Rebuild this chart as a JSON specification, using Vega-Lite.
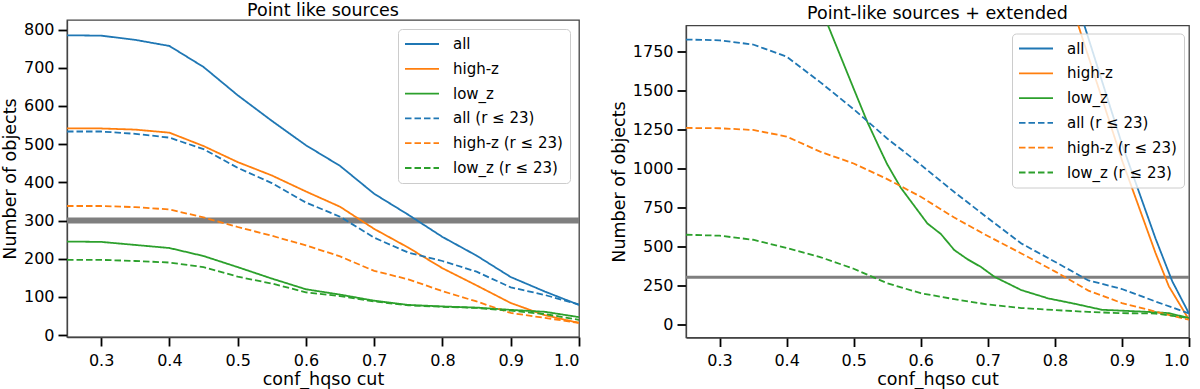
{
  "$schema": "https://vega.github.io/schema/vega-lite/v6.json",
  "background": "white",
  "padding": {"left": 0, "top": 0, "right": 5, "bottom": 0},
  "config": {
    "font": "DejaVu Sans",
    "view": {"stroke": "#444444", "strokeWidth": 1.3},
    "axis": {
      "labelFont": "DejaVu Sans", "labelFontSize": 16, "labelColor": "black",
      "titleFont": "DejaVu Sans", "titleFontSize": 17.5, "titleFontWeight": "normal", "titleColor": "black",
      "tickColor": "black", "tickSize": 9, "tickWidth": 1.8,
      "domainColor": "#444444", "domainWidth": 1.3,
      "grid": false, "titlePadding": 4
    },
    "axisX": {"labelPadding": 6, "titlePadding": 2},
    "axisY": {"labelPadding": 4},
    "title": {"font": "DejaVu Sans", "fontSize": 17.5, "fontWeight": "normal", "color": "black", "offset": 1, "anchor": "middle"},
    "legend": {
      "title": null, "symbolType": "M-1.125,0H3.125", "symbolSize": 256, "symbolStrokeWidth": 1.8,
      "labelFont": "DejaVu Sans", "labelFontSize": 15, "labelColor": "black", "labelOffset": 30,
      "fillColor": "rgba(255,255,255,0.8)", "strokeColor": "#cccccc", "cornerRadius": 4,
      "padding": 7, "rowPadding": 8.8, "clipHeight": 16
    }
  },
  "datasets": {
    "thr": [{"n": 300}],
    "left": [
      {"cut": 0.25, "n": 785, "series": "all"}, {"cut": 0.3, "n": 784, "series": "all"}, {"cut": 0.35, "n": 773, "series": "all"}, {"cut": 0.4, "n": 757, "series": "all"}, {"cut": 0.45, "n": 702, "series": "all"}, {"cut": 0.5, "n": 628, "series": "all"}, {"cut": 0.55, "n": 561, "series": "all"}, {"cut": 0.6, "n": 497, "series": "all"}, {"cut": 0.65, "n": 443, "series": "all"}, {"cut": 0.7, "n": 370, "series": "all"}, {"cut": 0.75, "n": 315, "series": "all"}, {"cut": 0.8, "n": 257, "series": "all"}, {"cut": 0.85, "n": 208, "series": "all"}, {"cut": 0.9, "n": 152, "series": "all"}, {"cut": 0.95, "n": 114, "series": "all"}, {"cut": 1.0, "n": 79, "series": "all"},
      {"cut": 0.25, "n": 541, "series": "high-z"}, {"cut": 0.3, "n": 541, "series": "high-z"}, {"cut": 0.35, "n": 538, "series": "high-z"}, {"cut": 0.4, "n": 530, "series": "high-z"}, {"cut": 0.45, "n": 495, "series": "high-z"}, {"cut": 0.5, "n": 453, "series": "high-z"}, {"cut": 0.55, "n": 418, "series": "high-z"}, {"cut": 0.6, "n": 376, "series": "high-z"}, {"cut": 0.65, "n": 336, "series": "high-z"}, {"cut": 0.7, "n": 278, "series": "high-z"}, {"cut": 0.75, "n": 229, "series": "high-z"}, {"cut": 0.8, "n": 175, "series": "high-z"}, {"cut": 0.85, "n": 130, "series": "high-z"}, {"cut": 0.9, "n": 84, "series": "high-z"}, {"cut": 0.95, "n": 52, "series": "high-z"}, {"cut": 1.0, "n": 32, "series": "high-z"},
      {"cut": 0.25, "n": 245, "series": "low_z"}, {"cut": 0.3, "n": 244, "series": "low_z"}, {"cut": 0.35, "n": 236, "series": "low_z"}, {"cut": 0.4, "n": 228, "series": "low_z"}, {"cut": 0.45, "n": 207, "series": "low_z"}, {"cut": 0.5, "n": 178, "series": "low_z"}, {"cut": 0.55, "n": 148, "series": "low_z"}, {"cut": 0.6, "n": 120, "series": "low_z"}, {"cut": 0.65, "n": 106, "series": "low_z"}, {"cut": 0.7, "n": 90, "series": "low_z"}, {"cut": 0.75, "n": 79, "series": "low_z"}, {"cut": 0.8, "n": 75, "series": "low_z"}, {"cut": 0.85, "n": 72, "series": "low_z"}, {"cut": 0.9, "n": 66, "series": "low_z"}, {"cut": 0.95, "n": 61, "series": "low_z"}, {"cut": 1.0, "n": 47, "series": "low_z"},
      {"cut": 0.25, "n": 533, "series": "all (r ≤ 23)"}, {"cut": 0.3, "n": 533, "series": "all (r ≤ 23)"}, {"cut": 0.35, "n": 527, "series": "all (r ≤ 23)"}, {"cut": 0.4, "n": 517, "series": "all (r ≤ 23)"}, {"cut": 0.45, "n": 487, "series": "all (r ≤ 23)"}, {"cut": 0.5, "n": 438, "series": "all (r ≤ 23)"}, {"cut": 0.55, "n": 398, "series": "all (r ≤ 23)"}, {"cut": 0.6, "n": 347, "series": "all (r ≤ 23)"}, {"cut": 0.65, "n": 310, "series": "all (r ≤ 23)"}, {"cut": 0.7, "n": 255, "series": "all (r ≤ 23)"}, {"cut": 0.75, "n": 216, "series": "all (r ≤ 23)"}, {"cut": 0.8, "n": 194, "series": "all (r ≤ 23)"}, {"cut": 0.85, "n": 166, "series": "all (r ≤ 23)"}, {"cut": 0.9, "n": 125, "series": "all (r ≤ 23)"}, {"cut": 0.95, "n": 105, "series": "all (r ≤ 23)"}, {"cut": 1.0, "n": 80, "series": "all (r ≤ 23)"},
      {"cut": 0.25, "n": 338, "series": "high-z (r ≤ 23)"}, {"cut": 0.3, "n": 338, "series": "high-z (r ≤ 23)"}, {"cut": 0.35, "n": 335, "series": "high-z (r ≤ 23)"}, {"cut": 0.4, "n": 329, "series": "high-z (r ≤ 23)"}, {"cut": 0.45, "n": 308, "series": "high-z (r ≤ 23)"}, {"cut": 0.5, "n": 283, "series": "high-z (r ≤ 23)"}, {"cut": 0.55, "n": 260, "series": "high-z (r ≤ 23)"}, {"cut": 0.6, "n": 235, "series": "high-z (r ≤ 23)"}, {"cut": 0.65, "n": 206, "series": "high-z (r ≤ 23)"}, {"cut": 0.7, "n": 168, "series": "high-z (r ≤ 23)"}, {"cut": 0.75, "n": 146, "series": "high-z (r ≤ 23)"}, {"cut": 0.8, "n": 115, "series": "high-z (r ≤ 23)"}, {"cut": 0.85, "n": 88, "series": "high-z (r ≤ 23)"}, {"cut": 0.9, "n": 58, "series": "high-z (r ≤ 23)"}, {"cut": 0.95, "n": 45, "series": "high-z (r ≤ 23)"}, {"cut": 1.0, "n": 32, "series": "high-z (r ≤ 23)"},
      {"cut": 0.25, "n": 197, "series": "low_z (r ≤ 23)"}, {"cut": 0.3, "n": 197, "series": "low_z (r ≤ 23)"}, {"cut": 0.35, "n": 194, "series": "low_z (r ≤ 23)"}, {"cut": 0.4, "n": 190, "series": "low_z (r ≤ 23)"}, {"cut": 0.45, "n": 178, "series": "low_z (r ≤ 23)"}, {"cut": 0.5, "n": 153, "series": "low_z (r ≤ 23)"}, {"cut": 0.55, "n": 135, "series": "low_z (r ≤ 23)"}, {"cut": 0.6, "n": 112, "series": "low_z (r ≤ 23)"}, {"cut": 0.65, "n": 102, "series": "low_z (r ≤ 23)"}, {"cut": 0.7, "n": 88, "series": "low_z (r ≤ 23)"}, {"cut": 0.75, "n": 78, "series": "low_z (r ≤ 23)"}, {"cut": 0.8, "n": 74, "series": "low_z (r ≤ 23)"}, {"cut": 0.85, "n": 71, "series": "low_z (r ≤ 23)"}, {"cut": 0.9, "n": 64, "series": "low_z (r ≤ 23)"}, {"cut": 0.95, "n": 55, "series": "low_z (r ≤ 23)"}, {"cut": 1.0, "n": 40, "series": "low_z (r ≤ 23)"}
    ],
    "right": [
      {"cut": 0.25, "n": 10500, "series": "all"}, {"cut": 0.3, "n": 10000, "series": "all"}, {"cut": 0.35, "n": 9300, "series": "all"}, {"cut": 0.4, "n": 8500, "series": "all"}, {"cut": 0.45, "n": 7600, "series": "all"}, {"cut": 0.5, "n": 6700, "series": "all"}, {"cut": 0.55, "n": 5800, "series": "all"}, {"cut": 0.6, "n": 4900, "series": "all"}, {"cut": 0.65, "n": 4100, "series": "all"}, {"cut": 0.7, "n": 3500, "series": "all"}, {"cut": 0.75, "n": 3000, "series": "all"}, {"cut": 0.8, "n": 2513, "series": "all"}, {"cut": 0.85, "n": 1834, "series": "all"}, {"cut": 0.9, "n": 1155, "series": "all"}, {"cut": 0.95, "n": 550, "series": "all"}, {"cut": 0.975, "n": 275, "series": "all"}, {"cut": 1.0, "n": 68, "series": "all"},
      {"cut": 0.25, "n": 9000, "series": "high-z"}, {"cut": 0.3, "n": 8600, "series": "high-z"}, {"cut": 0.35, "n": 8000, "series": "high-z"}, {"cut": 0.4, "n": 7300, "series": "high-z"}, {"cut": 0.45, "n": 6500, "series": "high-z"}, {"cut": 0.5, "n": 5700, "series": "high-z"}, {"cut": 0.55, "n": 4900, "series": "high-z"}, {"cut": 0.6, "n": 4200, "series": "high-z"}, {"cut": 0.65, "n": 3600, "series": "high-z"}, {"cut": 0.7, "n": 3100, "series": "high-z"}, {"cut": 0.75, "n": 2700, "series": "high-z"}, {"cut": 0.8, "n": 2380, "series": "high-z"}, {"cut": 0.85, "n": 1716, "series": "high-z"}, {"cut": 0.9, "n": 1052, "series": "high-z"}, {"cut": 0.95, "n": 457, "series": "high-z"}, {"cut": 0.97, "n": 242, "series": "high-z"}, {"cut": 1.0, "n": 28, "series": "high-z"},
      {"cut": 0.25, "n": 3700, "series": "low_z"}, {"cut": 0.3, "n": 3500, "series": "low_z"}, {"cut": 0.35, "n": 3100, "series": "low_z"}, {"cut": 0.4, "n": 2600, "series": "low_z"}, {"cut": 0.45, "n": 2040, "series": "low_z"}, {"cut": 0.5, "n": 1510, "series": "low_z"}, {"cut": 0.52, "n": 1300, "series": "low_z"}, {"cut": 0.54, "n": 1115, "series": "low_z"}, {"cut": 0.55, "n": 1025, "series": "low_z"}, {"cut": 0.57, "n": 876, "series": "low_z"}, {"cut": 0.61, "n": 645, "series": "low_z"}, {"cut": 0.63, "n": 578, "series": "low_z"}, {"cut": 0.65, "n": 475, "series": "low_z"}, {"cut": 0.67, "n": 415, "series": "low_z"}, {"cut": 0.69, "n": 366, "series": "low_z"}, {"cut": 0.71, "n": 303, "series": "low_z"}, {"cut": 0.75, "n": 218, "series": "low_z"}, {"cut": 0.79, "n": 165, "series": "low_z"}, {"cut": 0.83, "n": 130, "series": "low_z"}, {"cut": 0.87, "n": 92, "series": "low_z"}, {"cut": 0.9, "n": 86, "series": "low_z"}, {"cut": 0.95, "n": 76, "series": "low_z"}, {"cut": 0.97, "n": 70, "series": "low_z"}, {"cut": 1.0, "n": 39, "series": "low_z"},
      {"cut": 0.25, "n": 1825, "series": "all (r ≤ 23)"}, {"cut": 0.3, "n": 1820, "series": "all (r ≤ 23)"}, {"cut": 0.35, "n": 1793, "series": "all (r ≤ 23)"}, {"cut": 0.4, "n": 1715, "series": "all (r ≤ 23)"}, {"cut": 0.45, "n": 1552, "series": "all (r ≤ 23)"}, {"cut": 0.5, "n": 1378, "series": "all (r ≤ 23)"}, {"cut": 0.55, "n": 1190, "series": "all (r ≤ 23)"}, {"cut": 0.6, "n": 1022, "series": "all (r ≤ 23)"}, {"cut": 0.65, "n": 847, "series": "all (r ≤ 23)"}, {"cut": 0.7, "n": 680, "series": "all (r ≤ 23)"}, {"cut": 0.75, "n": 517, "series": "all (r ≤ 23)"}, {"cut": 0.8, "n": 400, "series": "all (r ≤ 23)"}, {"cut": 0.85, "n": 280, "series": "all (r ≤ 23)"}, {"cut": 0.9, "n": 225, "series": "all (r ≤ 23)"}, {"cut": 0.95, "n": 145, "series": "all (r ≤ 23)"}, {"cut": 1.0, "n": 68, "series": "all (r ≤ 23)"},
      {"cut": 0.25, "n": 1258, "series": "high-z (r ≤ 23)"}, {"cut": 0.3, "n": 1256, "series": "high-z (r ≤ 23)"}, {"cut": 0.35, "n": 1245, "series": "high-z (r ≤ 23)"}, {"cut": 0.4, "n": 1203, "series": "high-z (r ≤ 23)"}, {"cut": 0.45, "n": 1106, "series": "high-z (r ≤ 23)"}, {"cut": 0.5, "n": 1030, "series": "high-z (r ≤ 23)"}, {"cut": 0.55, "n": 930, "series": "high-z (r ≤ 23)"}, {"cut": 0.6, "n": 817, "series": "high-z (r ≤ 23)"}, {"cut": 0.65, "n": 683, "series": "high-z (r ≤ 23)"}, {"cut": 0.7, "n": 565, "series": "high-z (r ≤ 23)"}, {"cut": 0.75, "n": 453, "series": "high-z (r ≤ 23)"}, {"cut": 0.8, "n": 338, "series": "high-z (r ≤ 23)"}, {"cut": 0.85, "n": 215, "series": "high-z (r ≤ 23)"}, {"cut": 0.9, "n": 135, "series": "high-z (r ≤ 23)"}, {"cut": 0.95, "n": 80, "series": "high-z (r ≤ 23)"}, {"cut": 1.0, "n": 28, "series": "high-z (r ≤ 23)"},
      {"cut": 0.25, "n": 573, "series": "low_z (r ≤ 23)"}, {"cut": 0.3, "n": 567, "series": "low_z (r ≤ 23)"}, {"cut": 0.35, "n": 541, "series": "low_z (r ≤ 23)"}, {"cut": 0.4, "n": 488, "series": "low_z (r ≤ 23)"}, {"cut": 0.45, "n": 430, "series": "low_z (r ≤ 23)"}, {"cut": 0.5, "n": 355, "series": "low_z (r ≤ 23)"}, {"cut": 0.55, "n": 262, "series": "low_z (r ≤ 23)"}, {"cut": 0.6, "n": 198, "series": "low_z (r ≤ 23)"}, {"cut": 0.65, "n": 160, "series": "low_z (r ≤ 23)"}, {"cut": 0.7, "n": 126, "series": "low_z (r ≤ 23)"}, {"cut": 0.75, "n": 103, "series": "low_z (r ≤ 23)"}, {"cut": 0.8, "n": 90, "series": "low_z (r ≤ 23)"}, {"cut": 0.85, "n": 78, "series": "low_z (r ≤ 23)"}, {"cut": 0.9, "n": 70, "series": "low_z (r ≤ 23)"}, {"cut": 0.95, "n": 68, "series": "low_z (r ≤ 23)"}, {"cut": 1.0, "n": 39, "series": "low_z (r ≤ 23)"}
    ]
  },
  "spacing": 26,
  "resolve": {
    "scale": {"x": "independent", "y": "independent", "color": "independent", "strokeDash": "independent"},
    "legend": {"color": "independent", "strokeDash": "independent"}
  },
  "hconcat": [
    {
      "width": 512, "height": 317,
      "title": {"text": "Point like sources"},
      "layer": [
        {
          "data": {"name": "thr"},
          "mark": {"type": "rule", "color": "#7f7f7f", "strokeWidth": 6},
          "encoding": {
            "y": {"field": "n", "type": "quantitative", "scale": {"domain": [-5, 825], "nice": false, "zero": false}, "axis": {"title": "Number of objects", "values": [0, 100, 200, 300, 400, 500, 600, 700, 800]}}
          }
        },
        {
          "data": {"name": "left"},
          "mark": {"type": "line", "strokeWidth": 1.8, "clip": true},
          "encoding": {
            "x": {"field": "cut", "type": "quantitative", "scale": {"domain": [0.25, 1.0], "nice": false, "zero": false}, "axis": {"title": "conf_hqso cut", "values": [0.3, 0.4, 0.5, 0.6, 0.7, 0.8, 0.9, 1.0], "format": ".1f"}},
            "y": {"field": "n", "type": "quantitative", "scale": {"domain": [-5, 825], "nice": false, "zero": false}, "axis": {"title": "Number of objects", "values": [0, 100, 200, 300, 400, 500, 600, 700, 800]}},
            "color": {"field": "series", "type": "nominal", "scale": {"domain": ["all", "high-z", "low_z", "all (r ≤ 23)", "high-z (r ≤ 23)", "low_z (r ≤ 23)"], "range": ["#1f77b4", "#ff7f0e", "#2ca02c", "#1f77b4", "#ff7f0e", "#2ca02c"]}, "legend": {"orient": "none", "legendX": 331, "legendY": 9}},
            "strokeDash": {"field": "series", "type": "nominal", "scale": {"domain": ["all", "high-z", "low_z", "all (r ≤ 23)", "high-z (r ≤ 23)", "low_z (r ≤ 23)"], "range": [[1, 0], [1, 0], [1, 0], [6.5, 3], [6.5, 3], [6.5, 3]]}, "legend": {"orient": "none", "legendX": 331, "legendY": 9}}
          }
        }
      ]
    },
    {
      "spacing": 0.5,
      "resolve": {
        "scale": {"x": "independent", "y": "independent", "color": "independent", "strokeDash": "independent"},
        "legend": {"color": "independent", "strokeDash": "independent"}
      },
      "vconcat": [
        {
          "width": 503, "height": 1,
          "title": {"text": "Point-like sources + extended", "offset": -5},
          "view": {"stroke": null},
          "data": {"name": "thr"},
          "mark": {"type": "point", "opacity": 0},
          "encoding": {}
        },
        {
          "width": 503, "height": 312,
          "layer": [
            {
              "data": {"name": "thr"},
              "mark": {"type": "rule", "color": "#7f7f7f", "strokeWidth": 3},
              "encoding": {
                "y": {"field": "n", "type": "quantitative", "scale": {"domain": [-86, 1915], "nice": false, "zero": false}, "axis": {"title": "Number of objects", "values": [0, 250, 500, 750, 1000, 1250, 1500, 1750], "format": "d"}}
              }
            },
            {
              "data": {"name": "right"},
              "mark": {"type": "line", "strokeWidth": 1.8, "clip": true},
              "encoding": {
                "x": {"field": "cut", "type": "quantitative", "scale": {"domain": [0.25, 1.0], "nice": false, "zero": false}, "axis": {"title": "conf_hqso cut", "values": [0.3, 0.4, 0.5, 0.6, 0.7, 0.8, 0.9, 1.0], "format": ".1f"}},
                "y": {"field": "n", "type": "quantitative", "scale": {"domain": [-86, 1915], "nice": false, "zero": false}, "axis": {"title": "Number of objects", "values": [0, 250, 500, 750, 1000, 1250, 1500, 1750], "format": "d"}},
                "color": {"field": "series", "type": "nominal", "scale": {"domain": ["all", "high-z", "low_z", "all (r ≤ 23)", "high-z (r ≤ 23)", "low_z (r ≤ 23)"], "range": ["#1f77b4", "#ff7f0e", "#2ca02c", "#1f77b4", "#ff7f0e", "#2ca02c"]}, "legend": {"orient": "none", "legendX": 326, "legendY": 8}},
                "strokeDash": {"field": "series", "type": "nominal", "scale": {"domain": ["all", "high-z", "low_z", "all (r ≤ 23)", "high-z (r ≤ 23)", "low_z (r ≤ 23)"], "range": [[1, 0], [1, 0], [1, 0], [6.5, 3], [6.5, 3], [6.5, 3]]}, "legend": {"orient": "none", "legendX": 326, "legendY": 8}}
              }
            }
          ]
        }
      ]
    }
  ]
}
